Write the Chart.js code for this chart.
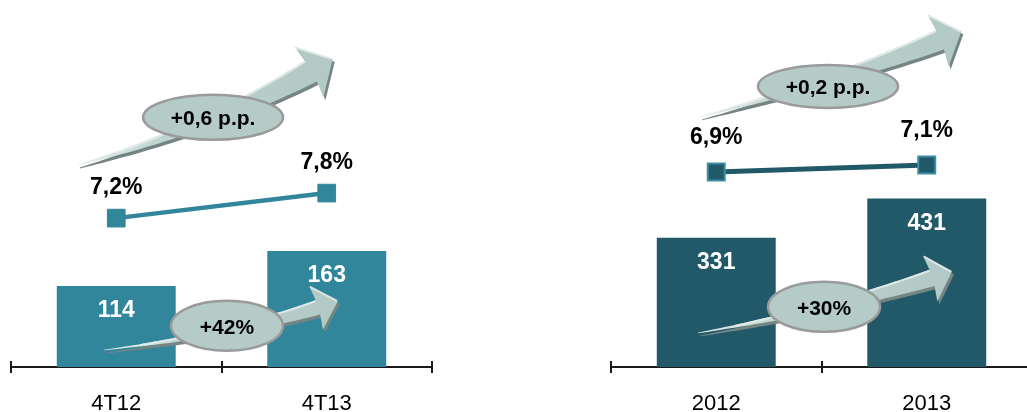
<!DOCTYPE html>
<html>
<head>
<meta charset="utf-8">
<script src="https://cdn.jsdelivr.net/npm/chart.js@4.4.0/dist/chart.umd.min.js"></script>
<style>
  html, body { margin: 0; padding: 0; background: #ffffff; }
  body { width: 1027px; height: 412px; position: relative; overflow: hidden; }
  .panel { position: absolute; top: 0; height: 412px; overflow: hidden; }
  #leftPanel { left: 0; width: 440px; }
  #rightPanel { left: 600px; width: 427px; }
  canvas { display: block; }
</style>
</head>
<body>
<div class="panel" id="leftPanel"><canvas id="leftChart" width="440" height="412"></canvas></div>
<div class="panel" id="rightPanel"><canvas id="rightChart" width="440" height="412"></canvas></div>
<script>
// ---- data ----
const leftCategories = ['4T12', '4T13'];
const leftVolumes = [114, 163];
const leftRates = [7.2, 7.8];
const leftNotes = ['+0,6 p.p.', '+42%'];

const rightCategories = ['2012', '2013'];
const rightVolumes = [331, 431];
const rightRates = [6.9, 7.1];
const rightNotes = ['+0,2 p.p.', '+30%'];

// ---- helpers ----
const FONT = "'Liberation Sans', Arial, sans-serif";
Chart.defaults.font.family = FONT;

function fmtRate(v) { return v.toFixed(1).replace('.', ',') + '%'; }

function bez(p0, p1, p2, t) {
  const a = (1 - t) * (1 - t), b = 2 * (1 - t) * t, c = t * t;
  return { x: a * p0.x + b * p1.x + c * p2.x, y: a * p0.y + b * p1.y + c * p2.y };
}
function bezD(p0, p1, p2, t) {
  const dx = 2 * (1 - t) * (p1.x - p0.x) + 2 * t * (p2.x - p1.x);
  const dy = 2 * (1 - t) * (p1.y - p0.y) + 2 * t * (p2.y - p1.y);
  const l = Math.hypot(dx, dy) || 1;
  return { x: dx / l, y: dy / l };
}

function arrowPoints(p0, p1, p2, w, hw, hl) {
  const N = 48, top = [], bot = [];
  for (let k = 0; k <= N; k++) {
    const t = k / N;
    const c = bez(p0, p1, p2, t), d = bezD(p0, p1, p2, t);
    const n = { x: d.y, y: -d.x };
    const wt = w * (0.04 + 0.96 * Math.pow(t, 1.1)) / 2;
    top.push({ x: c.x + n.x * wt, y: c.y + n.y * wt });
    bot.push({ x: c.x - n.x * wt, y: c.y - n.y * wt });
  }
  const d = bezD(p0, p1, p2, 1), n = { x: d.y, y: -d.x };
  const hb1 = { x: p2.x + n.x * hw - d.x * 2, y: p2.y + n.y * hw - d.y * 2 };
  const hb2 = { x: p2.x - n.x * hw - d.x * 2, y: p2.y - n.y * hw - d.y * 2 };
  const tip = { x: p2.x + d.x * hl, y: p2.y + d.y * hl };
  return { top, bot, hb1, hb2, tip };
}

function tracePath(ctx, a, ox, oy) {
  ctx.beginPath();
  ctx.moveTo(a.top[0].x + ox, a.top[0].y + oy);
  a.top.forEach(p => ctx.lineTo(p.x + ox, p.y + oy));
  ctx.lineTo(a.hb1.x + ox, a.hb1.y + oy);
  ctx.lineTo(a.tip.x + ox, a.tip.y + oy);
  ctx.lineTo(a.hb2.x + ox, a.hb2.y + oy);
  for (let k = a.bot.length - 1; k >= 0; k--) ctx.lineTo(a.bot[k].x + ox, a.bot[k].y + oy);
  ctx.closePath();
}

function drawArrow(ctx, p0, p1, p2, w, hw, hl) {
  const a = arrowPoints(p0, p1, p2, w, hw, hl);
  ctx.save();
  tracePath(ctx, a, 2, 3);
  ctx.fillStyle = '#758583';
  ctx.fill();
  const g = ctx.createLinearGradient(p0.x, p0.y, p2.x, p2.y);
  g.addColorStop(0, '#e6efed');
  g.addColorStop(0.35, '#bfd3cf');
  g.addColorStop(1, '#b2c9c5');
  tracePath(ctx, a, 0, 0);
  ctx.fillStyle = g;
  ctx.fill();
  ctx.beginPath();
  const s = Math.floor(a.top.length * 0.15);
  ctx.moveTo(a.top[s].x, a.top[s].y + 1);
  for (let k = s; k < a.top.length; k++) ctx.lineTo(a.top[k].x, a.top[k].y + 1);
  ctx.strokeStyle = 'rgba(225,236,233,0.9)';
  ctx.lineWidth = 2;
  ctx.stroke();
  ctx.beginPath();
  ctx.moveTo(a.hb1.x + 1, a.hb1.y + 1);
  ctx.lineTo(a.tip.x - 1, a.tip.y);
  ctx.stroke();
  ctx.restore();
}

const decorPlugin = {
  id: 'decor',
  afterDatasetsDraw(chart, args, opts) {
    const ctx = chart.ctx;
    const xs = chart.scales.x, ys = chart.scales.y;
    const P = a => ({ x: xs.getPixelForValue(a[0]), y: ys.getPixelForValue(a[1]) });
    ctx.save();
    opts.arrows.forEach(ar => drawArrow(ctx, P(ar.p0), P(ar.p1), P(ar.p2), ar.w, ar.hw, ar.hl));
    opts.ellipses.forEach((e, k) => {
      const c = P(e.c);
      ctx.beginPath();
      ctx.ellipse(c.x, c.y, e.rx, e.ry, 0, 0, Math.PI * 2);
      ctx.fillStyle = '#b4cbc7';
      ctx.fill();
      ctx.lineWidth = 2.5;
      ctx.strokeStyle = '#9a9a9a';
      ctx.stroke();
      ctx.fillStyle = '#000';
      ctx.font = 'bold 21px ' + FONT;
      ctx.textAlign = 'center';
      ctx.textBaseline = 'middle';
      ctx.fillText(opts.notes[k], c.x, c.y + 2);
    });
    ctx.font = 'bold 23px ' + FONT;
    ctx.textAlign = 'center';
    ctx.textBaseline = 'middle';
    const barMeta = chart.getDatasetMeta(0);
    const barData = chart.data.datasets[0].data;
    barMeta.data.forEach((el, i) => {
      ctx.fillStyle = '#ffffff';
      ctx.fillText(String(barData[i]), el.x, el.y + 25);
    });
    const lineMeta = chart.getDatasetMeta(1);
    const lineData = chart.data.datasets[1].data;
    lineMeta.data.forEach((el, i) => {
      ctx.fillStyle = '#000000';
      ctx.fillText(fmtRate(lineData[i]), el.x, el.y - opts.lineLabelOffset);
    });
    ctx.restore();
  },
  afterDraw(chart) {
    const ctx = chart.ctx, xs = chart.scales.x, b = chart.chartArea.bottom;
    ctx.save();
    ctx.strokeStyle = '#1a1a1a';
    ctx.lineWidth = 2;
    for (let k = 0; k <= chart.data.labels.length; k++) {
      const x = Math.round(xs.getPixelForValue(k - 0.5));
      ctx.beginPath();
      ctx.moveTo(x, b - 6);
      ctx.lineTo(x, b + 6);
      ctx.stroke();
    }
    ctx.restore();
  }
};

function makeChart(id, cats, vols, rates, notes, cfg) {
  return new Chart(document.getElementById(id), {
    data: {
      labels: cats,
      datasets: [
        {
          type: 'bar', data: vols, yAxisID: 'y', order: 1,
          backgroundColor: cfg.barColor, borderWidth: 0,
          barPercentage: 0.565, categoryPercentage: 1
        },
        {
          type: 'line', data: rates, yAxisID: 'y2', order: 0,
          borderColor: cfg.lineColor, borderWidth: cfg.lineWidth,
          pointStyle: 'rect', pointRadius: cfg.pointRadius, pointHoverRadius: cfg.pointRadius,
          pointBackgroundColor: cfg.lineColor, pointBorderColor: cfg.pointBorder,
          pointBorderWidth: cfg.pointBorderWidth, clip: false, tension: 0
        }
      ]
    },
    options: {
      responsive: false,
      animation: false,
      layout: { autoPadding: false, padding: { left: 11, right: 8, top: 0, bottom: 0 } },
      plugins: {
        legend: { display: false },
        tooltip: { enabled: false },
        decor: { arrows: cfg.arrows, ellipses: cfg.ellipses, notes: notes, lineLabelOffset: cfg.lineLabelOffset }
      },
      scales: {
        x: {
          type: 'category', offset: true,
          grid: { display: false },
          border: { display: true, color: '#1a1a1a', width: 2 },
          ticks: { color: '#000', font: { size: 22, family: FONT }, padding: 16, maxRotation: 0 },
          afterFit: s => { s.height = 45; }
        },
        y: { display: false, min: 0, max: cfg.yMax },
        y2: { display: false, min: cfg.y2Min, max: cfg.y2Max }
      }
    },
    plugins: [decorPlugin]
  });
}

makeChart('leftChart', leftCategories, leftVolumes, leftRates, leftNotes, {
  barColor: '#31869b', lineColor: '#31869b', lineWidth: 4.5,
  pointRadius: 12.5, pointBorder: '#31869b', pointBorderWidth: 1,
  yMax: 516, y2Min: 3.63, y2Max: 12.43, lineLabelOffset: 30,
  arrows: [
    { p0: [-0.182, 284], p1: [0.445, 336], p2: [0.925, 416], w: 24, hw: 29, hl: 25 },
    { p0: [-0.058, 24], p1: [0.540, 45], p2: [0.958, 84], w: 15, hw: 23, hl: 21 }
  ],
  ellipses: [
    { c: [0.460, 351], rx: 70, ry: 22.5 },
    { c: [0.526, 58], rx: 56, ry: 25 }
  ]
});

makeChart('rightChart', rightCategories, rightVolumes, rightRates, rightNotes, {
  barColor: '#215968', lineColor: '#215968', lineWidth: 5,
  pointRadius: 12, pointBorder: '#3b8ea5', pointBorderWidth: 2,
  yMax: 939, y2Min: 1.329, y2Max: 11.815, lineLabelOffset: 34,
  arrows: [
    { p0: [-0.077, 640], p1: [0.588, 734], p2: [1.063, 837], w: 21, hw: 28, hl: 23 },
    { p0: [-0.087, 87], p1: [0.540, 146], p2: [1.025, 228], w: 17, hw: 24, hl: 21 }
  ],
  ellipses: [
    { c: [0.531, 718], rx: 70, ry: 21.5 },
    { c: [0.512, 154], rx: 56, ry: 25 }
  ]
});
</script>
</body>
</html>
